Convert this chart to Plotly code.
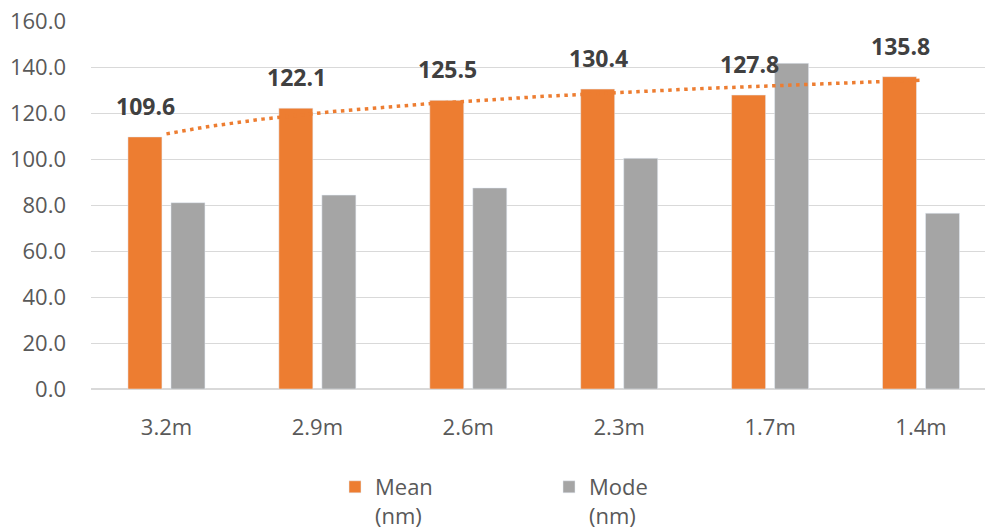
import numpy as np
import plotly.graph_objects as go

categories = ["3.2m", "2.9m", "2.6m", "2.3m", "1.7m", "1.4m"]
mean_vals = [109.6, 122.1, 125.5, 130.4, 127.8, 135.8]
mode_vals = [81.0, 84.3, 87.4, 100.3, 141.6, 76.4]
y_ticks = [0, 20, 40, 60, 80, 100, 120, 140, 160]

ORANGE = "#ED7D31"
GRAY = "#A5A5A5"
FONT = "Open Sans"

xpos = list(range(len(categories)))

fig = go.Figure()
fig.add_trace(go.Bar(x=xpos, y=mean_vals, name="Mean<br>(nm)", marker_color=ORANGE))
fig.add_trace(go.Bar(x=xpos, y=mode_vals, name="Mode<br>(nm)", marker_color=GRAY))

# logarithmic trendline of Mean (Excel-style)
lnx = np.log(np.arange(1, len(mean_vals) + 1))
b, a = np.polyfit(lnx, np.array(mean_vals), 1)
xt = np.linspace(0, len(mean_vals) - 1, 300)
yt = a + b * np.log(xt + 1)
fig.add_trace(go.Scatter(x=xt, y=yt, mode="lines", showlegend=False, hoverinfo="skip",
                         line=dict(color=ORANGE, width=3.5, dash="3.5px,4.5px")))

for i, v in enumerate(mean_vals):
    fig.add_annotation(x=i, y=v, xref="x", yref="y", text=f"<b>{v:.1f}</b>", showarrow=False,
                       xshift=-21, yshift=13, yanchor="bottom",
                       font=dict(family=FONT, size=23, color="#404040"))

fig.update_layout(
    width=985, height=531,
    margin=dict(l=91, r=0, t=21, b=142),
    paper_bgcolor="white", plot_bgcolor="white",
    barmode="group", bargap=0.43, bargroupgap=0.21,
    font=dict(family=FONT, size=22, color="#595959"),
    legend=dict(orientation="h", xref="container", yref="container", x=335/985, y=1 - 466/531,
                xanchor="left", yanchor="top", entrywidth=169, entrywidthmode="pixels",
                valign="top", font=dict(family=FONT, size=22, color="#595959")),
    xaxis=dict(range=[-0.5, 5.424], tickvals=xpos, ticktext=categories, showgrid=False,
               zeroline=False, showline=False, ticks="", ticklabelstandoff=23),
    yaxis=dict(range=[0, 160], tickvals=y_ticks, tickformat=".1f", showgrid=True,
               gridcolor="#D9D9D9", gridwidth=1.3, zeroline=True, zerolinecolor="#D9D9D9",
               zerolinewidth=1.5, ticks="", ticklabelstandoff=24),
)

fig.write_html("out.html")
